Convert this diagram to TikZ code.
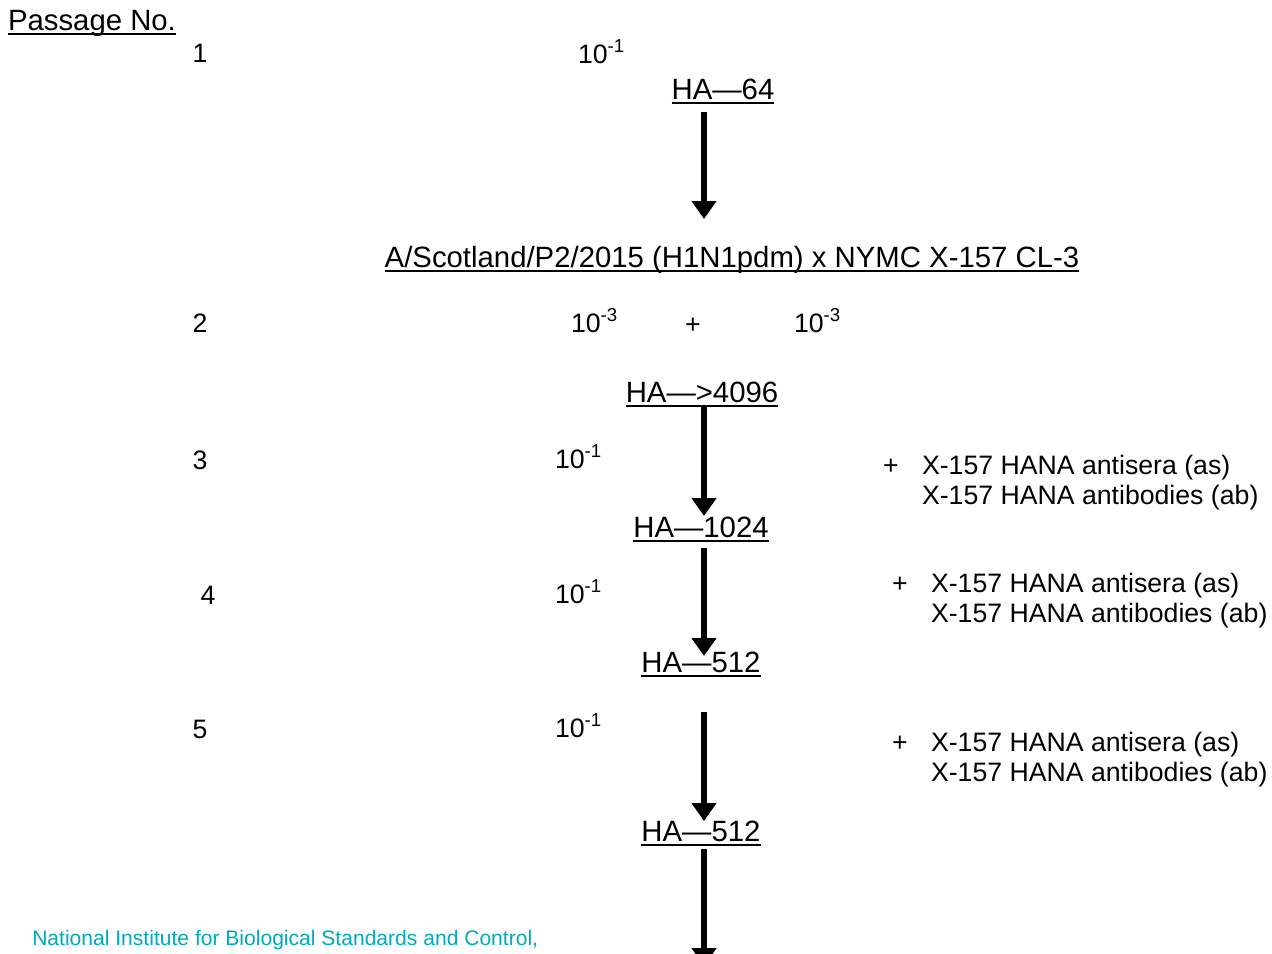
\documentclass[tikz,border=0pt]{standalone}
\usepackage{fontspec}
\setmainfont{Liberation Sans}
\usetikzlibrary{arrows.meta}
\begin{document}
\begin{tikzpicture}[x=0.75pt,y=-0.75pt,
  txt/.style={inner sep=0pt,outer sep=0pt,font=\fontsize{20}{24}\selectfont},
  ul/.style={inner sep=0pt,outer sep=0pt,font=\fontsize{22}{26}\selectfont,append after command={
     ([yshift=-2.8pt]\tikzlastnode.base west) edge[line width=1.6pt] ([yshift=-2.8pt]\tikzlastnode.base east)}},
  flow/.style={line width=3.8pt,-{Triangle[width=18pt,length=13.5pt]}},
  foot/.style={inner sep=0pt,font=\fontsize{15.8}{19}\selectfont,text=cyanish}]
\definecolor{cyanish}{RGB}{0,170,190}
\useasboundingbox (0,0) rectangle (1272,954);
\clip (0,0) rectangle (1272,954);
% header
\node[ul,anchor=base west] (hdr) at (8,30) {Passage No.};
% passage numbers
\node[txt,anchor=base] (p1) at (200,62) {1};
\node[txt,anchor=base] (p2) at (200,332) {2};
\node[txt,anchor=base] (p3) at (200,469) {3};
\node[txt,anchor=base] (p4) at (208,604) {4};
\node[txt,anchor=base] (p5) at (200,738) {5};
% dilutions
\node[txt,anchor=base west] (d1) at (578,63) {10\textsuperscript{-1}};
\node[txt,anchor=base west] (d2a) at (571,332) {10\textsuperscript{-3}};
\node[txt,anchor=base] (plus2) at (693,333) {+};
\node[txt,anchor=base west] (d2b) at (794,332) {10\textsuperscript{-3}};
\node[txt,anchor=base west] (d3) at (555,468) {10\textsuperscript{-1}};
\node[txt,anchor=base west] (d4) at (555,603) {10\textsuperscript{-1}};
\node[txt,anchor=base west] (d5) at (555,737) {10\textsuperscript{-1}};
% HA titres
\node[ul,anchor=base] (ha64) at (723,99) {HA---64};
\node[ul,anchor=base] (scot) at (732,267) {A/Scotland/P2/2015 (H1N1pdm) x NYMC X-157 CL-3};
\node[ul,anchor=base] (ha4096) at (702,402) {HA--->4096};
\node[ul,anchor=base] (ha1024) at (701,537) {HA---1024};
\node[ul,anchor=base] (ha512a) at (701,672) {HA---512};
\node[ul,anchor=base] (ha512b) at (701,841) {HA---512};
% antisera notes
\node[txt,anchor=base] (pl3) at (891,474) {+};
\node[txt,anchor=base west] (as3) at (922,474) {X-157 HANA antisera (as)};
\node[txt,anchor=base west] (ab3) at (922,504) {X-157 HANA antibodies (ab)};
\node[txt,anchor=base] (pl4) at (900,592) {+};
\node[txt,anchor=base west] (as4) at (931,592) {X-157 HANA antisera (as)};
\node[txt,anchor=base west] (ab4) at (931,622) {X-157 HANA antibodies (ab)};
\node[txt,anchor=base] (pl5) at (900,751) {+};
\node[txt,anchor=base west] (as5) at (931,751) {X-157 HANA antisera (as)};
\node[txt,anchor=base west] (ab5) at (931,781) {X-157 HANA antibodies (ab)};
% arrow coordinates
\coordinate (a1s) at (704,112); \coordinate (a1e) at (704,219);
\coordinate (a2s) at (704,407); \coordinate (a2e) at (704,516);
\coordinate (a3s) at (704,548); \coordinate (a3e) at (704,656);
\coordinate (a4s) at (704,712); \coordinate (a4e) at (704,821);
\coordinate (a5s) at (704,849); \coordinate (a5e) at (704,966);
\draw[flow] (a1s) -- (a1e);
\draw[flow] (a2s) -- (a2e);
\draw[flow] (a3s) -- (a3e);
\draw[flow] (a4s) -- (a4e);
\draw[flow] (a5s) -- (a5e);
% footer
\node[foot,anchor=base west] (ft) at (32,945) {National Institute for Biological Standards and Control,};
\end{tikzpicture}
\end{document}
